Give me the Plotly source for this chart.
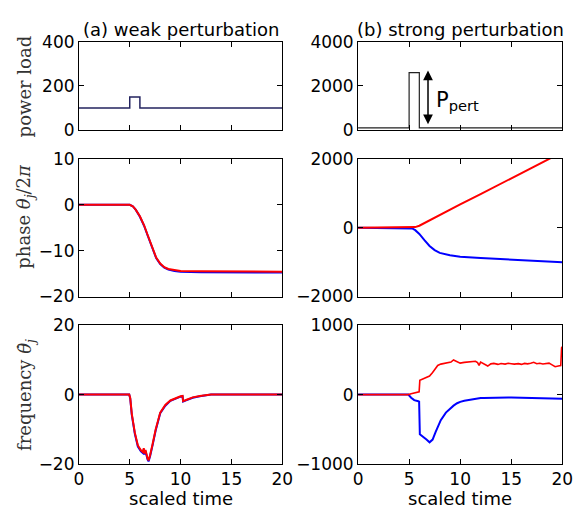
import plotly.graph_objects as go
from plotly.subplots import make_subplots

# ---------------- data ----------------
load_t = [0, 5, 5, 6, 6, 20]
load_weak = [100, 100, 150, 150, 100, 100]
load_strong = [100, 100, 2600, 2600, 100, 100]

phase_t_weak = [0, 5.0, 5.3, 5.6, 6.0, 6.4, 6.8, 7.2, 7.6, 8.0, 8.4, 8.8, 9.4, 10, 12, 20]
phase_weak_blue = [0, 0, -0.3, -1.1, -2.6, -4.5, -6.9, -9.5, -11.6, -12.9, -13.7, -14.1, -14.45, -14.6, -14.7, -14.75]
phase_weak_red = [0, 0, -0.3, -1.1, -2.5, -4.4, -6.8, -9.4, -11.5, -12.8, -13.6, -14.0, -14.3, -14.45, -14.5, -14.6]

phase_t_strong = [0, 5.0, 5.3, 5.6, 6.0, 6.5, 7.0, 7.5, 8.0, 9.0, 10, 12, 14, 16, 18, 20]
phase_strong_blue = [0, 0, -20, -70, -180, -360, -530, -650, -730, -800, -840, -880, -910, -940, -975, -1005]
phase_strong_red = [0, 0, 5, 20, 60, 140, 215, 300, 380, 530, 680, 980, 1280, 1590, 1900, 2200]

freq_t_weak = [0, 4.95, 5.05, 5.2, 5.5, 5.8, 6.1, 6.3, 6.38, 6.45, 6.55, 6.65, 6.75, 6.85, 6.92,
               7.0, 7.25, 7.55, 8.0, 8.5, 9.0, 9.5, 10.0, 10.2, 10.25, 10.6, 11.2, 11.9, 12.5, 13, 20]
freq_weak_blue = [0, 0, -1.2, -5.8, -11.3, -15.0, -16.4, -16.9, -15.8, -17.3, -16.3, -18.1, -18.7, -19.3, -18.8,
                  -17.8, -14.6, -10.4, -5.4, -3.2, -1.8, -1.1, -0.6, -0.5, -2.0, -1.6, -0.9, -0.5, -0.2, 0, 0]
freq_weak_red = [0, 0, -1, -5.5, -11, -14.7, -16.1, -16.6, -15.5, -17.0, -16.0, -17.8, -18.4, -19.0, -18.5,
                 -17.5, -14.3, -10.1, -5.2, -3.0, -1.7, -1.0, -0.5, -0.4, -1.9, -1.5, -0.8, -0.4, -0.1, 0, 0]

freq_t_strong = [0, 4.92, 5.2, 5.5, 5.9, 5.98, 6.05, 6.35, 6.7, 7.0, 7.3, 7.6, 7.8, 8.1, 8.6, 9.1, 9.35,
                 9.7, 10.0, 10.4, 10.9, 11.3, 11.5, 11.7, 11.85, 12.0, 12.3, 12.7, 13.0, 13.3, 13.7, 14.0,
                 14.4, 14.7, 15.0, 15.3, 15.7, 16.0, 16.3, 16.6, 16.9, 17.2, 17.5, 17.8, 18.1, 18.4, 18.7,
                 19.0, 19.3, 19.6, 19.85, 19.93, 20]
freq_strong_red = [0, 0, 12, 22, 37, 40, 205, 222, 240, 268, 320, 390, 421, 440, 454, 470, 500,
                   470, 454, 465, 468, 475, 481, 462, 421, 470, 445, 412, 444, 450, 436, 448,
                   440, 452, 446, 440, 447, 436, 450, 444, 452, 466, 445, 452, 443, 450, 455,
                   430, 403, 412, 418, 676, 690]
freq_strong_blue = [0, 0, -45, -80, -97, -102, -574, -606, -650, -690, -650, -540, -460, -370, -260, -185, -160,
                    -125, -105, -90, -75, -68, -62, -58, -54, -51, -50, -47, -45, -44, -43, -42,
                    -42, -42, -42, -43, -43, -44, -44, -45, -45, -46, -46, -47, -47, -48, -48,
                    -49, -50, -51, -52, -53, -60]

x_ticks = [0, 5, 10, 15, 20]
y_ticks = {
    "tl": [0, 200, 400], "tr": [0, 2000, 4000],
    "ml": [-20, -10, 0, 10], "mr": [-2000, 0, 2000],
    "bl": [-20, 0, 20], "br": [-1000, 0, 1000],
}
titles = ["(a) weak perturbation", "(b) strong perturbation"]
ylabels = ["power load", "phase <i>θ<sub>j</sub></i>/2<i>π</i>", "frequency <i>θ\u0307<sub>j</sub></i>"]

BLUE = "#0000ff"
RED = "#ff0000"

fig = make_subplots(rows=3, cols=2)

fig.add_trace(go.Scatter(x=load_t, y=load_weak, mode="lines", line=dict(color="#23235f", width=1.5)), row=1, col=1)
fig.add_trace(go.Scatter(x=load_t, y=load_strong, mode="lines", line=dict(color="#222222", width=1.2)), row=1, col=2)
fig.add_trace(go.Scatter(x=phase_t_weak, y=phase_weak_blue, mode="lines", line=dict(color=BLUE, width=2)), row=2, col=1)
fig.add_trace(go.Scatter(x=phase_t_weak, y=phase_weak_red, mode="lines", line=dict(color=RED, width=2)), row=2, col=1)
fig.add_trace(go.Scatter(x=phase_t_strong, y=phase_strong_blue, mode="lines", line=dict(color=BLUE, width=2)), row=2, col=2)
fig.add_trace(go.Scatter(x=phase_t_strong, y=phase_strong_red, mode="lines", line=dict(color=RED, width=2)), row=2, col=2)
fig.add_trace(go.Scatter(x=freq_t_weak, y=freq_weak_blue, mode="lines", line=dict(color=BLUE, width=2)), row=3, col=1)
fig.add_trace(go.Scatter(x=freq_t_weak, y=freq_weak_red, mode="lines", line=dict(color=RED, width=2)), row=3, col=1)
fig.add_trace(go.Scatter(x=freq_t_strong, y=freq_strong_blue, mode="lines", line=dict(color=BLUE, width=2)), row=3, col=2)
fig.add_trace(go.Scatter(x=freq_t_strong, y=freq_strong_red, mode="lines", line=dict(color=RED, width=1.6)), row=3, col=2)

W, H = 584, 519
col_px = [(76, 285), (363, 573)]
row_px = [(33, 125), (155, 298), (328, 472)]
keys = [["tl", "tr"], ["ml", "mr"], ["bl", "br"]]
yranges = {"tl": [0, 400], "tr": [0, 4000], "ml": [-20, 10], "mr": [-2000, 2000], "bl": [-20, 20], "br": [-1000, 1000]}

tickfont = dict(family="DejaVu Sans", size=17, color="black")
common = dict(showline=True, linecolor="black", linewidth=1, mirror="allticks", ticks="inside",
              ticklen=5, tickcolor="black", tickwidth=1, showgrid=False, zeroline=False, tickfont=tickfont)

for r in range(3):
    for c in range(2):
        k = keys[r][c]
        xd = [col_px[c][0] / W, col_px[c][1] / W]
        yd = [1 - row_px[r][1] / H, 1 - row_px[r][0] / H]
        fig.update_xaxes(domain=xd, range=[0, 20], tickvals=x_ticks, ticktext=[str(v) for v in x_ticks],
                         showticklabels=(r == 2), row=r + 1, col=c + 1, **common)
        fig.update_yaxes(domain=yd, range=yranges[k], tickvals=y_ticks[k],
                         ticktext=[("\u2212" + str(-v)) if v < 0 else str(v) for v in y_ticks[k]],
                         row=r + 1, col=c + 1, **common)

ann = []
for c in range(2):
    cx = (col_px[c][0] + col_px[c][1]) / 2 / W
    ann.append(dict(text=titles[c], x=cx, y=1 - 20 / H, xref="paper", yref="paper", showarrow=False,
                    xanchor="center", yanchor="middle", font=dict(family="DejaVu Sans", size=18, color="black")))
    ann.append(dict(text="scaled time", x=cx, y=1 - 508 / H, xref="paper", yref="paper", showarrow=False,
                    xanchor="center", yanchor="middle", font=dict(family="DejaVu Sans", size=18, color="black")))
for r in range(3):
    cy = 1 - ((row_px[r][0] + row_px[r][1]) / 2) / H
    if r == 1:
        cy += 12 / H
    ann.append(dict(text=ylabels[r], x=21 / W, y=cy, xref="paper", yref="paper", showarrow=False,
                    textangle=-90, xanchor="center", yanchor="middle",
                    font=dict(family="DejaVu Serif", size=18, color="#333333")))

ann.append(dict(x=6.85, y=2700, ax=6.85, ay=200, xref="x2", yref="y2", axref="x2", ayref="y2",
                showarrow=True, arrowhead=2, startarrowhead=2, arrowside="end+start", arrowsize=1.3,
                startarrowsize=1.3, arrowwidth=1.5, arrowcolor="black", text=""))
ann.append(dict(x=7.4, y=1300, xref="x2", yref="y2", showarrow=False, xanchor="left", yanchor="middle",
                text="P<sub>pert</sub>", font=dict(family="DejaVu Sans", size=21, color="black")))

fig.update_layout(width=W, height=H, margin=dict(l=0, r=0, t=0, b=0), showlegend=False,
                  plot_bgcolor="white", paper_bgcolor="white", annotations=ann)

fig.write_html("out.html", config={"displayModeBar": False},
               post_script="document.body.style.margin='0px';")
